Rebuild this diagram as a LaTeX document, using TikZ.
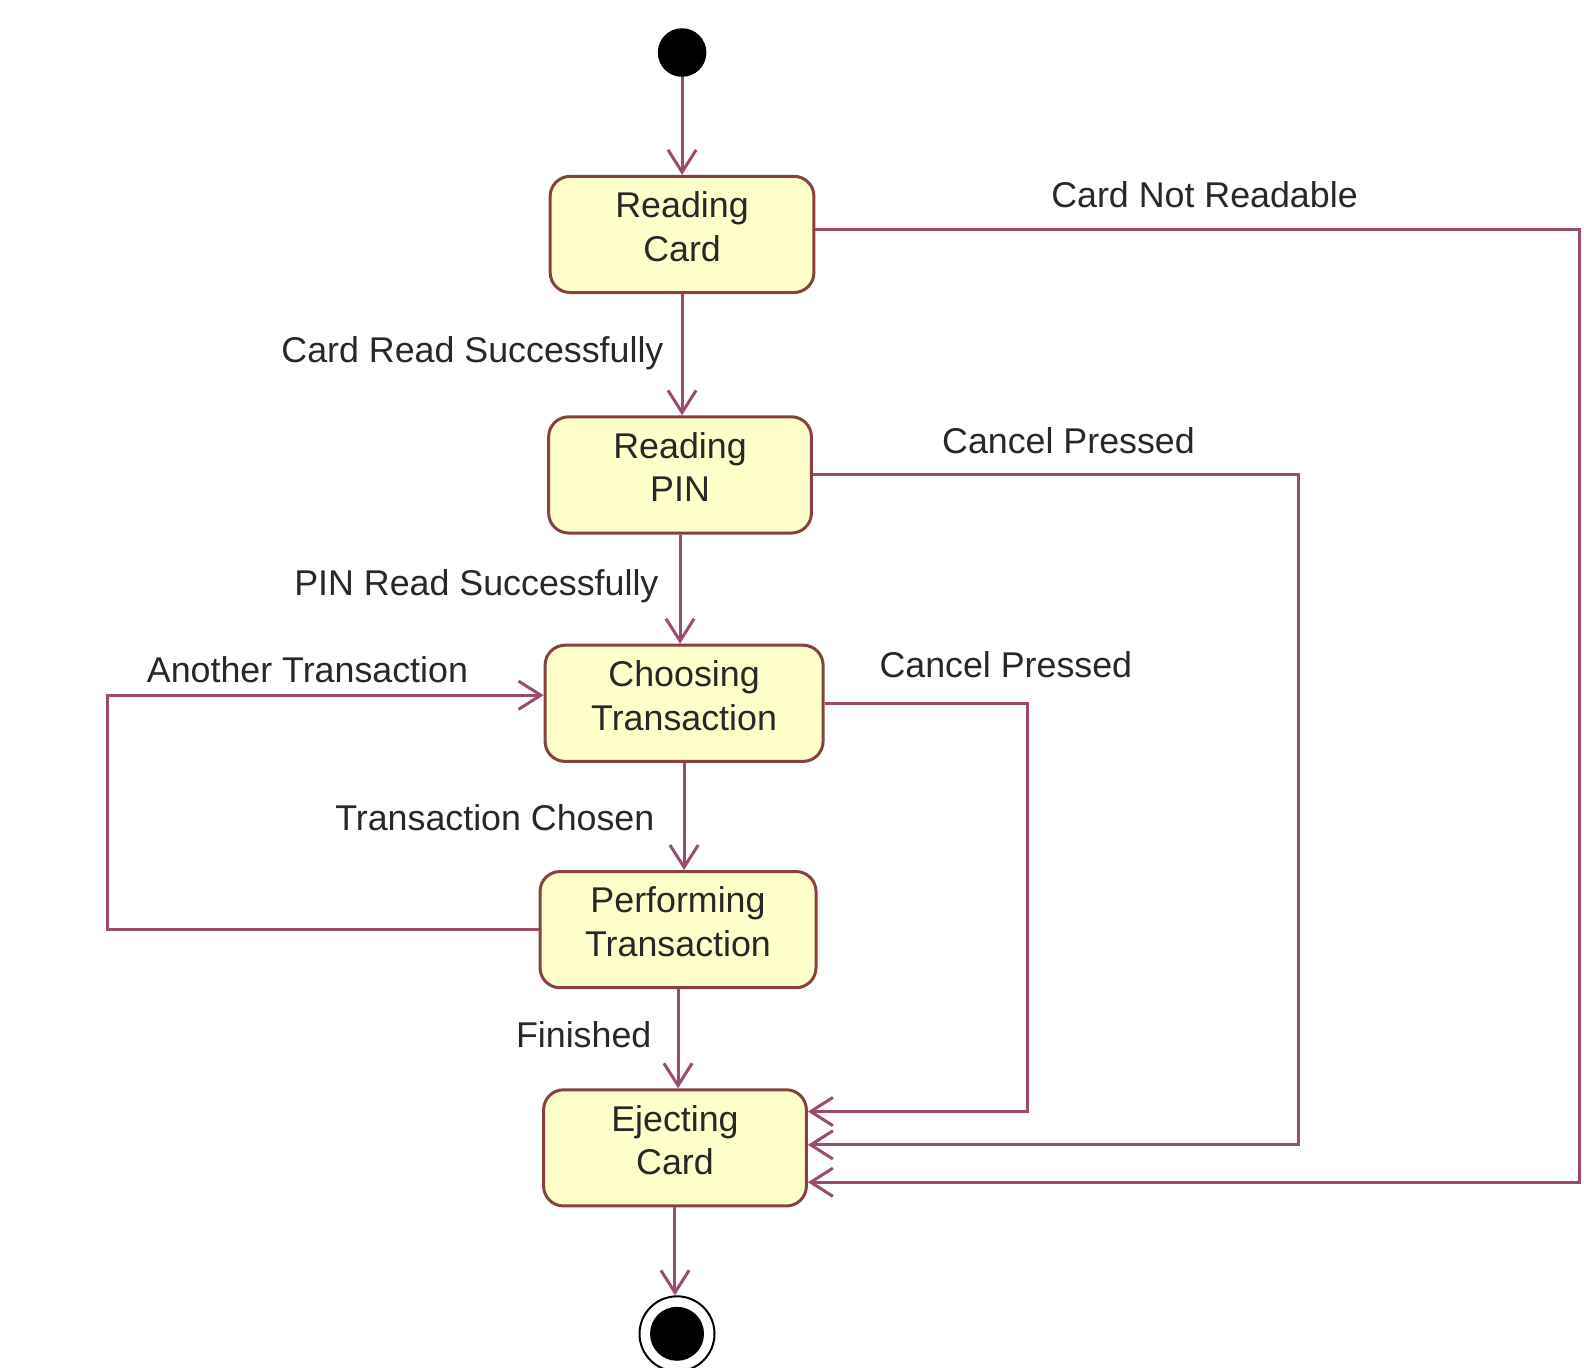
\documentclass[tikz,border=0pt]{standalone}
\usepackage{fontspec}
\setmainfont{Liberation Sans}
\usetikzlibrary{arrows.meta}
\definecolor{flowcol}{RGB}{155,75,110}
\definecolor{boxcol}{RGB}{135,65,65}
\definecolor{statefill}{RGB}{255,255,204}
\definecolor{txtcol}{RGB}{40,40,40}
\begin{document}
\begin{tikzpicture}[x=0.50525pt, y=-0.50525pt,
  every node/.style={font=\fontsize{17.9}{21.8}\selectfont, text=txtcol},
  state/.style={draw=boxcol, line width=1.5pt, fill=statefill, rounded corners=10pt, align=center, minimum width=131.4pt, minimum height=58.1pt, inner sep=0pt, text depth=8pt},
  flow/.style={draw=flowcol, line width=1.5pt, -{Straight Barb[length=11.1pt,width=14.1pt]}},
  lbl/.style={inner sep=0pt}]
\useasboundingbox (0,0) rectangle (1567.6,1353.8);
% states
\node[circle, fill=black, minimum size=24.3pt, inner sep=0pt] (start) at (675,52) {};
\node[state, minimum width=131.9pt] (card) at (675,232) {Reading\\Card};
\node[state] (pin) at (673,470) {Reading\\PIN};
\node[state, minimum width=139pt] (choose) at (677,696) {Choosing\\Transaction};
\node[state, minimum width=138pt] (perform) at (671,920) {Performing\\Transaction};
\node[state] (eject) at (668,1136) {Ejecting\\Card};
\node[circle, draw=black, line width=1pt, minimum size=37.5pt, inner sep=0pt] (end) at (670,1320) {};
\node[circle, fill=black, minimum size=27pt, inner sep=0pt] (endin) at (end) {};
% straight transitions
\draw[flow] (start) -- (start |- card.north);
\draw[flow] (card) -- (card |- pin.north);
\draw[flow] (pin) -- (pin |- choose.north);
\draw[flow] (choose) -- (choose |- perform.north);
\draw[flow] (perform) -- (perform |- eject.north);
\draw[flow] (eject) -- (eject |- end.north);
% side loops
\coordinate (c1) at (1563,1170);
\coordinate (c2) at (1285,1133);
\coordinate (c3) at (1017,1100);
\coordinate (c4) at (106,688);
\draw[flow] ([yshift=2.5pt]card.east) -| (c1) -- (eject.east |- c1);
\draw[flow] (pin.east) -| (c2) -- (eject.east |- c2);
\draw[flow] (choose.east) -| (c3) -- (eject.east |- c3);
\draw[flow] (perform.west) -| (c4) -- (choose.west |- c4);
% labels
\node[lbl, anchor=base east] (l1) at (657,359) {Card Read Successfully};
\node[lbl, anchor=base east] (l2) at (652,589) {PIN Read Successfully};
\node[lbl, anchor=base east] (l3) at (648,822) {Transaction Chosen};
\node[lbl, anchor=base east] (l4) at (645,1037) {Finished};
\node[lbl, anchor=base west] (l5) at (1040,205) {Card Not Readable};
\node[lbl, anchor=base west] (l6) at (932,449) {Cancel Pressed};
\node[lbl, anchor=base west] (l7) at (870,670) {Cancel Pressed};
\node[lbl, anchor=base west] (l8) at (145,675) {Another Transaction};
\end{tikzpicture}
\end{document}
